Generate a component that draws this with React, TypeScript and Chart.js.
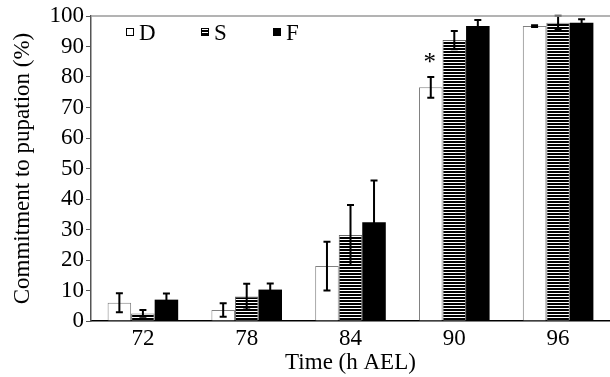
import React, { useEffect, useRef } from 'react';
import { Chart, registerables } from 'chart.js';

Chart.register(...registerables);

const categories = ['72', '78', '84', '90', '96'];
const dValues = [6, 3.6, 18, 76.6, 96.7];
const dErrors = [3.1, 2.2, 8, 3.4, 0.3];
const sValues = [2.5, 8, 28.2, 92.1, 97.8];
const sErrors = [1.1, 4.2, 9.8, 3, 2.3];
const fValues = [7, 10.3, 32.4, 96.7, 97.8];
const fErrors = [2, 2, 13.7, 2, 1.1];
const seriesNames = ['D', 'S', 'F'];
const yMin = 0;
const yMax = 100;
const yStep = 10;

const FONT = '"Liberation Serif", "Times New Roman", serif';
const FS = 23;

function makeStripePattern(): CanvasPattern | string {
  const c = document.createElement('canvas');
  c.width = 4;
  c.height = 3;
  const x = c.getContext('2d');
  if (!x) return '#444';
  x.fillStyle = '#ffffff';
  x.fillRect(0, 0, 4, 3);
  x.fillStyle = '#000000';
  x.fillRect(0, 0, 4, 2);
  const p = x.createPattern(c, 'repeat');
  return p || '#444';
}

export default function App() {
  const ref = useRef<HTMLCanvasElement | null>(null);

  useEffect(() => {
    document.body.style.margin = '0';
    const canvas = ref.current;
    if (!canvas) return;
    const stripes = makeStripePattern();
    const errs = [dErrors, sErrors, fErrors];

    const errorBars = {
      id: 'errorBars',
      afterDatasetsDraw(chart: any) {
        const ctx = chart.ctx;
        const y = chart.scales.y;
        ctx.save();
        ctx.strokeStyle = '#000';
        ctx.lineWidth = 2;
        chart.data.datasets.forEach((ds: any, i: number) => {
          const meta = chart.getDatasetMeta(i);
          meta.data.forEach((el: any, j: number) => {
            const v = ds.data[j];
            const e = errs[i][j];
            const top = y.getPixelForValue(v + e);
            const bot = y.getPixelForValue(v - e);
            const x = el.x;
            ctx.beginPath();
            ctx.moveTo(x, top);
            ctx.lineTo(x, bot);
            ctx.moveTo(x - 3.5, top);
            ctx.lineTo(x + 3.5, top);
            ctx.moveTo(x - 3.5, bot);
            ctx.lineTo(x + 3.5, bot);
            ctx.stroke();
          });
        });
        ctx.restore();
      },
    };

    const decorations = {
      id: 'decorations',
      afterDraw(chart: any) {
        const ctx = chart.ctx;
        const area = chart.chartArea;
        ctx.save();
        // top frame line
        ctx.strokeStyle = '#9a9a9a';
        ctx.lineWidth = 1.5;
        ctx.beginPath();
        ctx.moveTo(area.left, area.top);
        ctx.lineTo(chart.width, area.top);
        ctx.stroke();

        // legend
        ctx.font = FS + 'px ' + FONT;
        ctx.textBaseline = 'alphabetic';
        ctx.fillStyle = '#000';
        const ly = 40;
        const items = [
          { x: 126, fill: '#fff', name: seriesNames[0] },
          { x: 201, fill: stripes, name: seriesNames[1] },
          { x: 273, fill: '#000', name: seriesNames[2] },
        ];
        items.forEach((it) => {
          ctx.fillStyle = it.fill as any;
          ctx.fillRect(it.x, ly - 12, 7, 7);
          ctx.strokeStyle = '#000';
          ctx.lineWidth = 1;
          ctx.strokeRect(it.x + 0.5, ly - 11.5, 7, 7);
          ctx.fillStyle = '#000';
          ctx.fillText(it.name, it.x + 13, ly);
        });

        // asterisk over D at 90
        const meta = chart.getDatasetMeta(0);
        const el = meta.data[3];
        if (el) {
          ctx.font = '25px ' + FONT;
          ctx.textAlign = 'center';
          ctx.textBaseline = 'middle';
          ctx.fillStyle = '#000';
          ctx.fillText('*', el.x - 1, 63);
        }
        ctx.restore();
      },
    };

    const chart = new Chart(canvas, {
      type: 'bar',
      data: {
        labels: categories,
        datasets: [
          {
            label: seriesNames[0],
            data: dValues,
            backgroundColor: '#ffffff',
            borderColor: '#808080',
            borderWidth: 1,
          },
          {
            label: seriesNames[1],
            data: sValues,
            backgroundColor: stripes as any,
            borderColor: '#666666',
            borderWidth: 1,
          },
          {
            label: seriesNames[2],
            data: fValues,
            backgroundColor: '#000000',
            borderColor: '#000000',
            borderWidth: 0,
          },
        ],
      },
      options: {
        responsive: false,
        animation: false,
        layout: { padding: { top: 16, right: 0, left: 0, bottom: 0 } },
        categoryPercentage: 0.68,
        barPercentage: 1.0,
        plugins: {
          legend: { display: false },
          tooltip: { enabled: false },
        },
        scales: {
          x: {
            grid: { display: false, drawTicks: false },
            border: { display: true, color: '#000', width: 1.5 },
            ticks: {
              color: '#000',
              font: { family: FONT, size: FS },
              padding: 4,
            },
            title: {
              display: true,
              text: 'Time (h AEL)',
              color: '#000',
              font: { family: FONT, size: FS },
              padding: { top: 0, bottom: 0 },
            },
            afterFit(scale: any) {
              scale.height = 56;
            },
          },
          y: {
            min: yMin,
            max: yMax,
            grid: {
              display: true,
              drawOnChartArea: false,
              drawTicks: true,
              tickLength: 5,
              color: '#555',
            },
            border: { display: true, color: '#555', width: 1.5 },
            ticks: {
              stepSize: yStep,
              autoSkip: false,
              color: '#000',
              font: { family: FONT, size: FS, lineHeight: 1 },
              padding: 2,
            },
            title: {
              display: true,
              text: 'Commitment to pupation (%)',
              color: '#000',
              font: { family: FONT, size: FS },
              padding: { top: 9, bottom: 0 },
            },
            afterFit(scale: any) {
              scale.width = 91;
            },
          },
        },
      } as any,
      plugins: [errorBars, decorations],
    });

    return () => {
      chart.destroy();
    };
  }, []);

  return (
    <div style={{ width: 610, height: 377 }}>
      <canvas ref={ref} width={610} height={377} />
    </div>
  );
}
